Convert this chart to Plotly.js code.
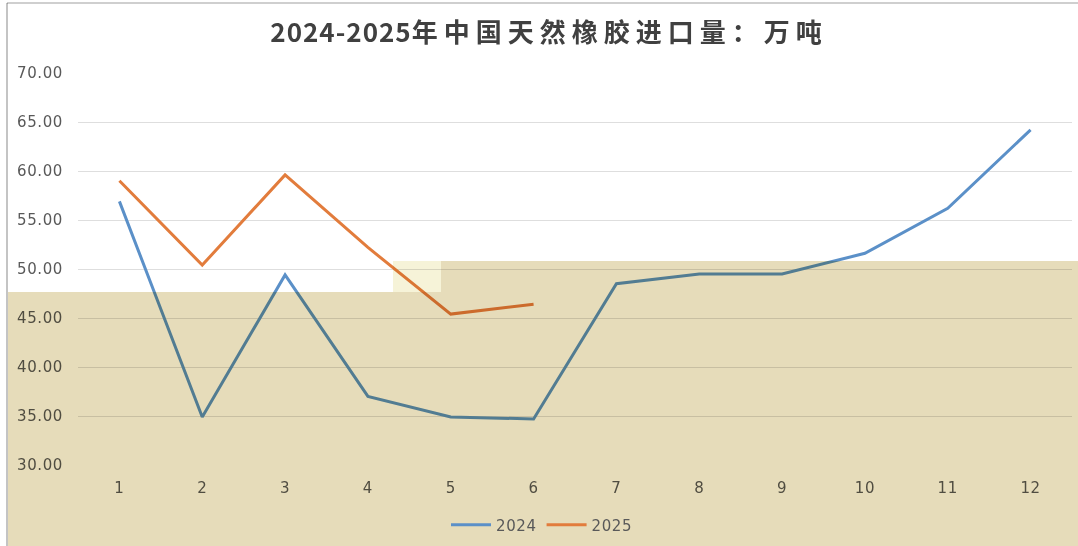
<!DOCTYPE html>
<html>
<head>
<meta charset="utf-8">
<script src="https://cdn.plot.ly/plotly-3.0.1.min.js"></script>
<style>
html,body{margin:0;padding:0;background:#fff;}
#chart{width:1078px;height:546px;}
.layer-above .shapelayer path{mix-blend-mode:multiply;}
.ytick text{letter-spacing:0.6px;}
.xtick text{letter-spacing:0.6px;}
.legendtext{letter-spacing:0.6px;}
</style>
</head>
<body>
<div id="chart"></div>
<script>
const months = ['1','2','3','4','5','6','7','8','9','10','11','12'];
const imports2024 = [56.9, 34.9, 49.4, 37.0, 34.9, 34.7, 48.5, 49.5, 49.5, 51.6, 56.2, 64.2];
const imports2025 = [59.0, 50.4, 59.6, 52.2, 45.4, 46.4];
const yTickVals = [30, 35, 40, 45, 50, 55, 60, 65, 70];
const yTickText = ['30.00','35.00','40.00','45.00','50.00','55.00','60.00','65.00','70.00'];
const titleLatin = '2024-2025';
const titleCJK = '年中国天然橡胶进口量：万吨';

const W = 1078, H = 546;
const M = {l: 78, r: 6, t: 73, b: 81};
const PW = W - M.l - M.r, PH = H - M.t - M.b;
function px(x){ return (x - M.l) / PW; }
function py(y){ return (H - M.b - y) / PH; }
function rectPx(x0, y0, x1, y1, color, layer){
  return {type:'rect', xref:'paper', yref:'paper', layer: layer || 'above',
    x0: px(x0), x1: px(x1), y0: py(y1), y1: py(y0),
    fillcolor: color, line: {width: 0}};
}

const beige = '#e6dcba';
const shapes = [
  rectPx(8, 292, 441, 546, beige),
  rectPx(441, 261, 1078, 546, beige),
  rectPx(393, 261, 441, 292, '#f6f3d8'),
  {type:'line', xref:'paper', yref:'paper', layer:'above',
    x0: px(7), x1: px(7), y0: py(3), y1: py(546), line:{color:'#c4c4c4', width:2}},
  {type:'line', xref:'paper', yref:'paper', layer:'above',
    x0: px(7), x1: px(1078), y0: py(3), y1: py(3), line:{color:'#cfcfcf', width:2}}
];

const traces = [
  {x: months, y: imports2024, name: '2024', type: 'scatter', mode: 'lines',
   line: {color: '#5b90c8', width: 3}},
  {x: months.slice(0, imports2025.length), y: imports2025, name: '2025', type: 'scatter', mode: 'lines',
   line: {color: '#e27c3c', width: 3}}
];

const tickFont = {family: 'DejaVu Sans', size: 15, color: '#595959'};
const layout = {
  width: W, height: H,
  margin: M,
  paper_bgcolor: '#ffffff',
  plot_bgcolor: 'rgba(0,0,0,0)',
  title: {text: '<span style="letter-spacing:1px">' + titleLatin + '</span><span style="letter-spacing:6px">' + titleCJK + '</span>',
    font: {family: 'Noto Sans CJK SC', size: 26, color: '#404040', weight: 'bold'},
    xref: 'container', x: 549 / W, xanchor: 'center',
    yref: 'container', y: 1 - 33 / H, yanchor: 'middle'},
  xaxis: {type: 'category', range: [-0.5, 11.5], showgrid: false, zeroline: false,
    showline: false, ticks: '', tickfont: tickFont, ticklabelstandoff: 12, fixedrange: true},
  yaxis: {range: [30, 70], tickvals: yTickVals, ticktext: yTickText, showgrid: true,
    gridcolor: '#dedede', gridwidth: 1, zeroline: false, showline: false, ticks: '',
    tickfont: tickFont, ticklabelstandoff: 14, fixedrange: true},
  showlegend: true,
  legend: {orientation: 'h', xref: 'container', x: 542 / W, xanchor: 'center',
    yref: 'container', y: 1 - 525 / H, yanchor: 'middle',
    font: {family: 'DejaVu Sans', size: 15, color: '#595959'},
    bgcolor: 'rgba(0,0,0,0)', itemwidth: 40, tracegroupgap: 0},
  shapes: shapes
};

Plotly.newPlot('chart', traces, layout, {displayModeBar: false, staticPlot: true});
</script>
</body>
</html>
